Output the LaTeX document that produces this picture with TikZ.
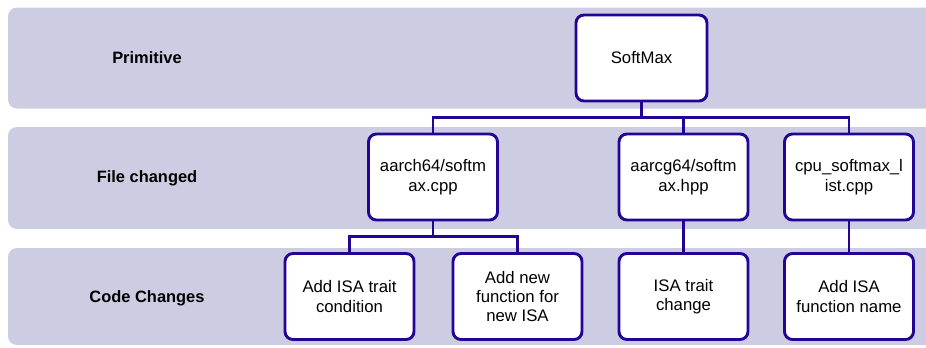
\documentclass[tikz,border=0pt]{standalone}
\usepackage{fontspec}
\setmainfont{Liberation Sans}
\definecolor{bandfill}{RGB}{204,204,227}
\definecolor{boxline}{RGB}{36,4,148}
\begin{document}
\begin{tikzpicture}[x=1bp,y=-1bp,
  band/.style={fill=bandfill,draw=none,rounded corners=9bp},
  rowlabel/.style={font=\bfseries\fontsize{16.5}{19}\selectfont,anchor=center},
  item/.style={draw=boxline,fill=white,line width=2.9bp,rounded corners=8bp,
    minimum width=129bp,minimum height=86bp,inner sep=0pt,align=center,
    font=\fontsize{16.8}{19.5}\selectfont},
  conn/.style={draw=boxline,line width=2.9bp}]
  \clip (0,0) rectangle (926,347);
  \fill[white] (0,0) rectangle (926,347);

  % swim-lane bands
  \path[band] (8,7.5) rectangle (960,108.5);
  \path[band] (8,127) rectangle (960,229);
  \path[band] (8,248) rectangle (960,345);

  % lane titles
  \node[rowlabel] (lp) at (147,58) {Primitive};
  \node[rowlabel] (lf) at (147,178) {File changed};
  \node[rowlabel] (lc) at (147,298) {Code Changes};

  % primitive
  \node[item,minimum width=131bp] (sm) at (641.5,58) {SoftMax};

  % files
  \node[item] (f1) at (433,177) {aarch64/softm\\ax.cpp};
  \node[item] (f2) at (683.5,177) {aarcg64/softm\\ax.hpp};
  \node[item] (f3) at (849,177) {cpu\_softmax\_l\\ist.cpp};

  % code changes
  \node[item] (c1) at (349.5,296.5) {Add ISA trait\\condition};
  \node[item] (c2) at (517.5,296.5) {Add new\\function for\\new ISA};
  \node[item] (c3) at (683.5,296.5) {ISA trait\\change};
  \node[item] (c4) at (849,296.5) {Add ISA\\function name};

  % tree connectors
  \coordinate (j1) at (641.5,117.5);
  \coordinate (j2) at (433,236.5);
  \draw[conn] (sm.south) -- (j1);
  \draw[conn] (f1.north) |- (j1) -| (f3.north);
  \draw[conn] (f2.north) -- (f2.north |- j1);
  \draw[conn] (f1.south) -- (j2);
  \draw[conn] (c1.north) |- (j2) -| (c2.north);
  \draw[conn] (f2.south) -- (c3.north);
  \draw[conn] (f3.south) -- (c4.north);
\end{tikzpicture}
\end{document}
